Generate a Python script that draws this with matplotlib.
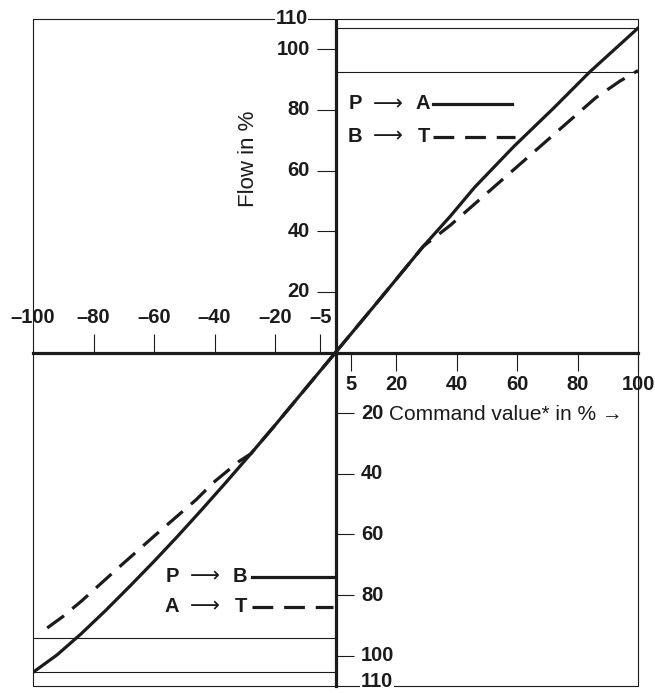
import matplotlib
matplotlib.use("Agg")
import matplotlib.pyplot as plt
from matplotlib import font_manager

# pick a condensed bold face if there is one
installed = {f.name for f in font_manager.fontManager.ttflist}
if "Liberation Sans Narrow" in installed:
    num_font, num_size = "Liberation Sans Narrow", 15.5
else:
    num_font, num_size = "Liberation Sans", 14.5

ink = "#1c1a1b"

# P -> A (solid) and B -> T (dashed), upper right quadrant
pa_x = [0, 15, 29, 38, 46, 59, 72, 84, 100]
pa_y = [0, 18, 35, 45, 54.5, 68, 80.5, 92.5, 107]
bt_x = [0, 15, 29, 38, 54, 70, 86, 94, 100]
bt_y = [0, 18, 35, 42, 56, 70, 84, 89.5, 93]

# P -> B (solid) and A -> T (dashed), lower left quadrant
pb_x = [0, -10, -20, -28, -36, -44, -52, -60, -68, -76, -84, -92, -100]
pb_y = [0, -12, -24, -33.4, -42.6, -51.6, -60.4, -68.9, -77.1, -85.1, -92.7, -99.7, -105.5]
at_x = [0, -10, -20, -28, -32, -40.5, -46, -60, -72, -84, -90, -97]
at_y = [0, -12, -24, -33.4, -36, -43, -48.5, -60.6, -71.2, -82, -87, -92.1]

# limit lines
upper_limits = [107, 92.4]
lower_limits = [-94.1, -105.3]

x_ticks_neg = [-80, -60, -40, -20, -5]
x_ticks_pos = [5, 20, 40, 60, 80, 100]
y_ticks = [20, 40, 60, 80, 100]

fig = plt.figure(figsize=(6.55, 6.93), dpi=100)
ax = fig.add_axes([33 / 655, 7 / 693, 605 / 655, 667 / 693])
ax.set_xlim(-100, 100)
ax.set_ylim(-110, 110)
ax.axis("off")

thin = dict(color=ink, lw=0.8, clip_on=False, solid_capstyle="butt")
num = dict(family=num_font, weight="bold", fontsize=num_size, color=ink)
dash = (0, (6.5, 3.4))

# outer frame
ax.plot([-100, 100, 100, -100, -100], [110, 110, -110, -110, 110], **thin)

# limit lines
for v in upper_limits:
    ax.plot([0, 100], [v, v], **thin)
for v in lower_limits:
    ax.plot([-100, 0], [v, v], **thin)

# main axes
ax.plot([-100, 100], [0, 0], color=ink, lw=2.3, clip_on=False)
ax.plot([0, 0], [-110, 109.3], color=ink, lw=2.3, clip_on=False)

# x ticks: negative above, positive below
for t in x_ticks_neg:
    ax.plot([t, t], [0, 6], **thin)
    ax.text(t, 11.5, "–%d" % -t, ha="center", va="center", **num)
ax.text(-100, 11.5, "–100", ha="center", va="center", **num)
for t in x_ticks_pos:
    ax.plot([t, t], [0, -6], **thin)
    ax.text(t, -10.7, str(t), ha="center", va="center", **num)

# y ticks: positive left, negative right (labels without sign)
for t in y_ticks:
    ax.plot([-6, 0], [t, t], **thin)
    ax.text(-8.5, t, str(t), ha="right", va="center", **num)
    ax.plot([0, 6], [-t, -t], **thin)
    ax.text(8.5, -t, str(t), ha="left", va="center", **num)
box = dict(facecolor="white", edgecolor="none", pad=0.5)
ax.text(-14.5, 110, "110", ha="center", va="center", bbox=box, **num)
ax.text(13.7, -108.6, "110", ha="center", va="center", bbox=box, **num)

# curves
ax.plot(pa_x, pa_y, color=ink, lw=2.3, solid_joinstyle="round")
ax.plot(bt_x, bt_y, color=ink, lw=2.3, linestyle=dash)
ax.plot(pb_x, pb_y, color=ink, lw=2.3, solid_joinstyle="round")
ax.plot(at_x, at_y, color=ink, lw=2.3, linestyle=dash)


def flow_label(x_end, y, a, b):
    ax.text(x_end, y, b, ha="right", va="center", **num)
    ax.annotate("⟶", (x_end, y), xytext=(-30, 0), textcoords="offset points",
                ha="center", va="center", family="DejaVu Sans", fontsize=15, color=ink)
    ax.annotate(a, (x_end, y), xytext=(-49, 0), textcoords="offset points",
                ha="right", va="center", **num)


flow_label(31.2, 82, "P", "A")
ax.plot([32.2, 58.4], [82, 82], color=ink, lw=2.3)
flow_label(31.2, 71.2, "B", "T")
ax.plot([32.2, 59.3], [71.2, 71.2], color=ink, lw=2.3, linestyle=dash)

flow_label(-29.3, -73.9, "P", "B")
ax.plot([-27.7, -0.9], [-73.9, -73.9], color=ink, lw=2.3)
flow_label(-29.3, -83.8, "A", "T")
ax.plot([-27.7, -0.9], [-83.8, -83.8], color=ink, lw=2.3, linestyle=dash)

# axis titles
ax.text(-28.6, 64, "Flow in %", rotation=90, ha="center", va="center",
        family="Liberation Sans", fontsize=16, color=ink)
ax.text(17.7, -20.3, "Command value* in % →", ha="left", va="center",
        family=["Liberation Sans", "DejaVu Sans"], fontsize=15, color=ink)

fig.savefig("out.png", dpi=100)
